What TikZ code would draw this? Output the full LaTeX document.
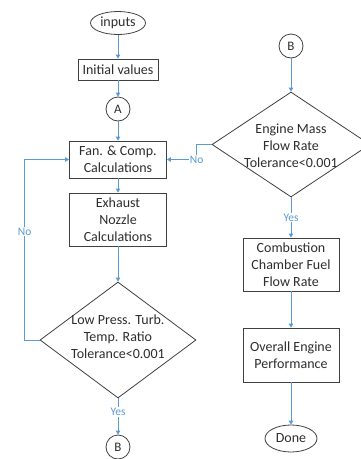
\documentclass[tikz,border=0pt]{standalone}
\usepackage{fontspec}
\setmainfont{Carlito}
\usetikzlibrary{arrows.meta,shapes.geometric}

\definecolor{flowblue}{RGB}{91,155,213}
\definecolor{edgegray}{RGB}{64,64,64}
\definecolor{inkgray}{RGB}{45,45,45}

\tikzset{every picture/.style={line width=0.8pt}}
\tikzset{
  procbox/.style={draw=edgegray, rectangle, align=center, inner sep=0pt, text=inkgray, font=\fontsize{14}{17}\selectfont},
  termnode/.style={draw=edgegray, ellipse, inner sep=0pt, text=inkgray, font=\fontsize{14}{17}\selectfont},
  connnode/.style={draw=edgegray, circle, inner sep=0pt, minimum size=24, text=inkgray, font=\fontsize{13}{15}\selectfont},
  decide/.style={draw=edgegray, diamond, inner sep=0pt},
  decidetext/.style={align=center, inner sep=0pt, text=inkgray, font=\fontsize{14}{17}\selectfont},
  flow/.style={draw=flowblue, -{Triangle[length=4pt,width=4.5pt]}},
  flowlbl/.style={text=flowblue, fill=white, inner sep=1pt, font=\fontsize{11.5}{13}\selectfont}
}

\begin{document}
\begin{tikzpicture}[x=1pt,y=1pt,yscale=-1,xscale=1]
\useasboundingbox (0,0) rectangle (360,459);

%Left column
\node[termnode, minimum width=55, minimum height=23] (inputs) at (118,23) {inputs};
\node[procbox, minimum width=80, minimum height=21] (init) at (118,69.5) {Initial values};
\node[connnode] (A) at (118,109) {A};
\node[procbox, minimum width=97, minimum height=37] (fan) at (118,159.5) {Fan. \& Comp.\\Calculations};
\node[procbox, minimum width=97, minimum height=53] (nozzle) at (118,219.5) {Exhaust\\Nozzle\\Calculations};
\node[decide, minimum width=156, minimum height=116] (lpt) at (118,340) {};
% Text Node
\node[decidetext] (lpttext) at (118,337) {Low Press. Turb.\\Temp. Ratio\\Tolerance<0.001};
\node[connnode] (B1) at (118,447) {B};

%Right column
\node[connnode] (B2) at (291,46) {B};
\node[decide, minimum width=158, minimum height=105] (eng) at (291,144.5) {};
% Text Node
\node[decidetext] (engtext) at (291,146) {Engine Mass\\Flow Rate\\Tolerance<0.001};
\node[procbox, minimum width=96, minimum height=53] (comb) at (291,264.5) {Combustion\\Chamber Fuel\\Flow Rate};
\node[procbox, minimum width=96, minimum height=54] (overall) at (291,355) {Overall Engine\\Performance};
\node[termnode, minimum width=52, minimum height=27] (done) at (291,438.5) {Done};

%Connectors
\draw[flow] (inputs) -- (init);
\draw[flow] (init) -- (A);
\draw[flow] (A) -- (fan);
\draw[flow] (fan) -- (nozzle);
\draw[flow] (nozzle) -- (lpt.north);
\draw[flow] (lpt.south) -- (B1) node[flowlbl, pos=0.38] {Yes};
\draw[flow] (lpt.west) -- ++(-15,0) |- (fan.west) node[flowlbl, pos=0.3] {No};
\draw[flow] (B2) -- (eng.north);
\draw[flow] (eng.south) -- (comb) node[flowlbl, pos=0.5] {Yes};
\draw[flow] (eng.west) -- ++(-15,0) |- (fan.east) node[flowlbl, pos=0.5] {No};
\draw[flow] (comb) -- (overall);
\draw[flow] (overall) -- (done);

\end{tikzpicture}
\end{document}
